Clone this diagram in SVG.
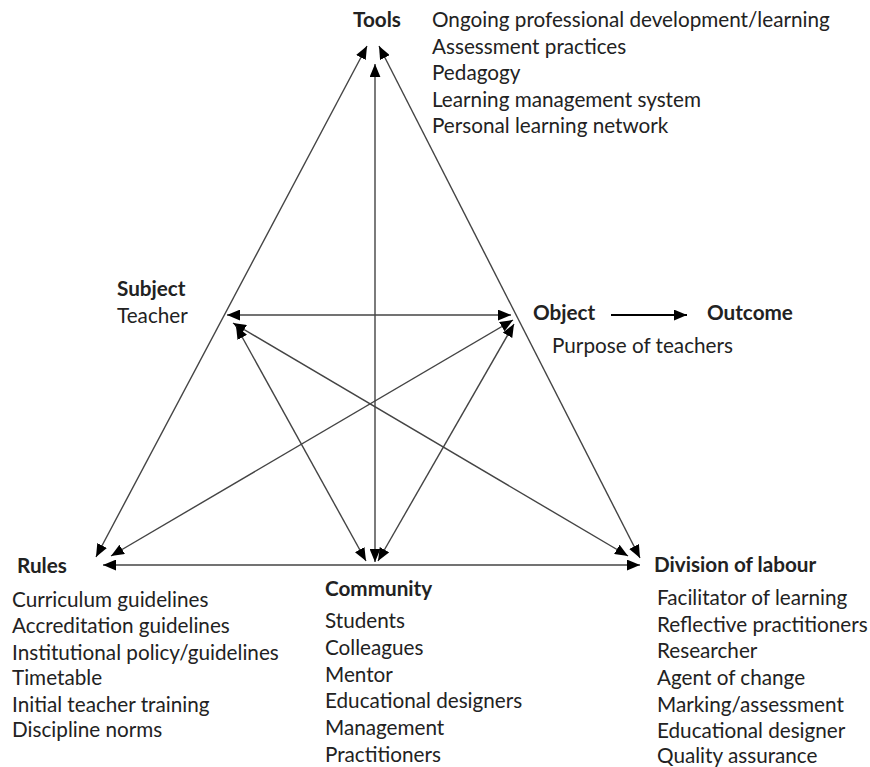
<svg xmlns="http://www.w3.org/2000/svg" width="870" height="767" viewBox="0 0 870 767">
<defs>
<marker id="ah" viewBox="0 0 12 10" refX="12" refY="5" markerWidth="13" markerHeight="11" markerUnits="userSpaceOnUse" orient="auto-start-reverse">
<path d="M0,0 L12,5 L0,10 z" fill="#000"/>
</marker>
<style>
text{font-family:Lato,"Open Sans","Liberation Sans",sans-serif;font-size:20.7px;fill:#222}
.b{font-weight:bold}
.ln{stroke:#444;stroke-width:1.4;fill:none;marker-start:url(#ah);marker-end:url(#ah)}
</style>
</defs>
<rect width="870" height="767" fill="#fff"/>
<g id="connectors">
<line class="ln" x1="367" y1="46" x2="96" y2="557"/>
<line class="ln" x1="379" y1="46" x2="640" y2="558"/>
<line class="ln" x1="375" y1="64" x2="375" y2="562"/>
<line class="ln" x1="103" y1="565" x2="640" y2="565"/>
<line class="ln" x1="227" y1="315" x2="511" y2="315"/>
<line class="ln" x1="233" y1="323" x2="628" y2="556"/>
<line class="ln" x1="236" y1="326" x2="366" y2="561"/>
<line class="ln" x1="513" y1="320" x2="111" y2="556"/>
<line class="ln" x1="514" y1="324" x2="378" y2="561"/>
<line x1="611" y1="315" x2="687" y2="315" stroke="#000" stroke-width="2" marker-end="url(#ah)"/>
</g>
<g id="tools">
<text class="b" x="377" y="27" text-anchor="middle">Tools</text>
<text x="432" y="27">Ongoing professional development/learning</text>
<text x="432" y="54">Assessment practices</text>
<text x="432" y="80">Pedagogy</text>
<text x="432" y="107">Learning management system</text>
<text x="432" y="133">Personal learning network</text>
</g>
<g id="subject">
<text class="b" x="117" y="296">Subject</text>
<text x="117" y="323">Teacher</text>
</g>
<g id="object">
<text class="b" x="533" y="320">Object</text>
<text x="552" y="353">Purpose of teachers</text>
</g>
<g id="outcome">
<text class="b" x="707" y="320">Outcome</text>
</g>
<g id="rules">
<text class="b" x="17" y="573">Rules</text>
<text x="12" y="607">Curriculum guidelines</text>
<text x="12" y="633">Accreditation guidelines</text>
<text x="12" y="660">Institutional policy/guidelines</text>
<text x="12" y="685">Timetable</text>
<text x="12" y="712">Initial teacher training</text>
<text x="12" y="737">Discipline norms</text>
</g>
<g id="community">
<text class="b" x="325" y="596">Community</text>
<text x="325" y="628">Students</text>
<text x="325" y="655">Colleagues</text>
<text x="325" y="682">Mentor</text>
<text x="325" y="708">Educational designers</text>
<text x="325" y="735">Management</text>
<text x="325" y="762">Practitioners</text>
</g>
<g id="division">
<text class="b" x="654" y="572">Division of labour</text>
<text x="657" y="605">Facilitator of learning</text>
<text x="657" y="632">Reflective practitioners</text>
<text x="657" y="658">Researcher</text>
<text x="657" y="685">Agent of change</text>
<text x="657" y="712">Marking/assessment</text>
<text x="657" y="738">Educational designer</text>
<text x="657" y="763">Quality assurance</text>
</g>
</svg>
